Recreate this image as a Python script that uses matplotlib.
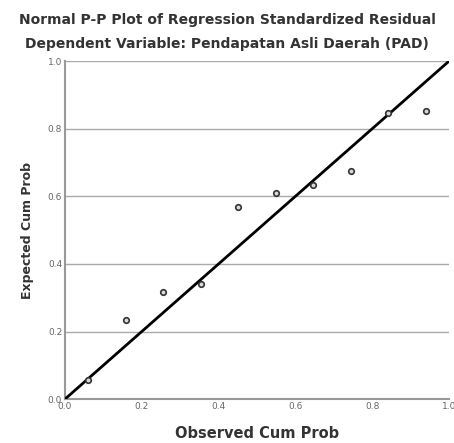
import numpy as np
import matplotlib
matplotlib.use("Agg")
import matplotlib.pyplot as plt

# Normal P-P plot, residuals (n = 10)
observed = [0.061, 0.159, 0.256, 0.354, 0.451, 0.549, 0.646, 0.744, 0.841, 0.939]
expected = [0.056, 0.234, 0.317, 0.340, 0.568, 0.609, 0.633, 0.675, 0.846, 0.852]
ticks = [0.0, 0.2, 0.4, 0.6, 0.8, 1.0]
tick_labels = ["0.0", "0.2", "0.4", "0.6", "0.8", "1.0"]

fig = plt.figure(figsize=(4.54, 4.43), dpi=100)
ax = fig.add_axes([0.143, 0.099, 0.846, 0.763])

ax.plot([0, 1], [0, 1], color="black", lw=2, zorder=3)
ax.scatter(observed, expected, s=16, facecolor="#d8d8d8", edgecolor="#333333",
           linewidth=1.2, zorder=4)

ax.set_xlim(0, 1)
ax.set_ylim(0, 1)
ax.set_xticks(ticks)
ax.set_yticks(ticks)
ax.set_xticklabels(tick_labels)
ax.set_yticklabels(tick_labels)
ax.tick_params(length=0, labelsize=6.5, colors="#666666", pad=2)
ax.yaxis.grid(True, color="#aaaaaa", lw=1)
ax.set_axisbelow(True)

for s in ["top", "right"]:
    ax.spines[s].set_visible(False)
for s in ["left", "bottom"]:
    ax.spines[s].set_color("#999999")
    ax.spines[s].set_linewidth(1.5)

ax.set_xlabel("Observed Cum Prob", fontsize=10.5, fontweight="bold", color="#333333", labelpad=11)
ax.set_ylabel("Expected Cum Prob", fontsize=9, fontweight="bold", color="#333333", labelpad=10)

fig.text(0.5, 0.955, "Normal P-P Plot of Regression Standardized Residual",
         ha="center", va="center", fontsize=10, fontweight="bold", color="#333333")
fig.text(0.5, 0.9, "Dependent Variable: Pendapatan Asli Daerah (PAD)",
         ha="center", va="center", fontsize=10, fontweight="bold", color="#333333")

fig.savefig("out.png", dpi=100)
